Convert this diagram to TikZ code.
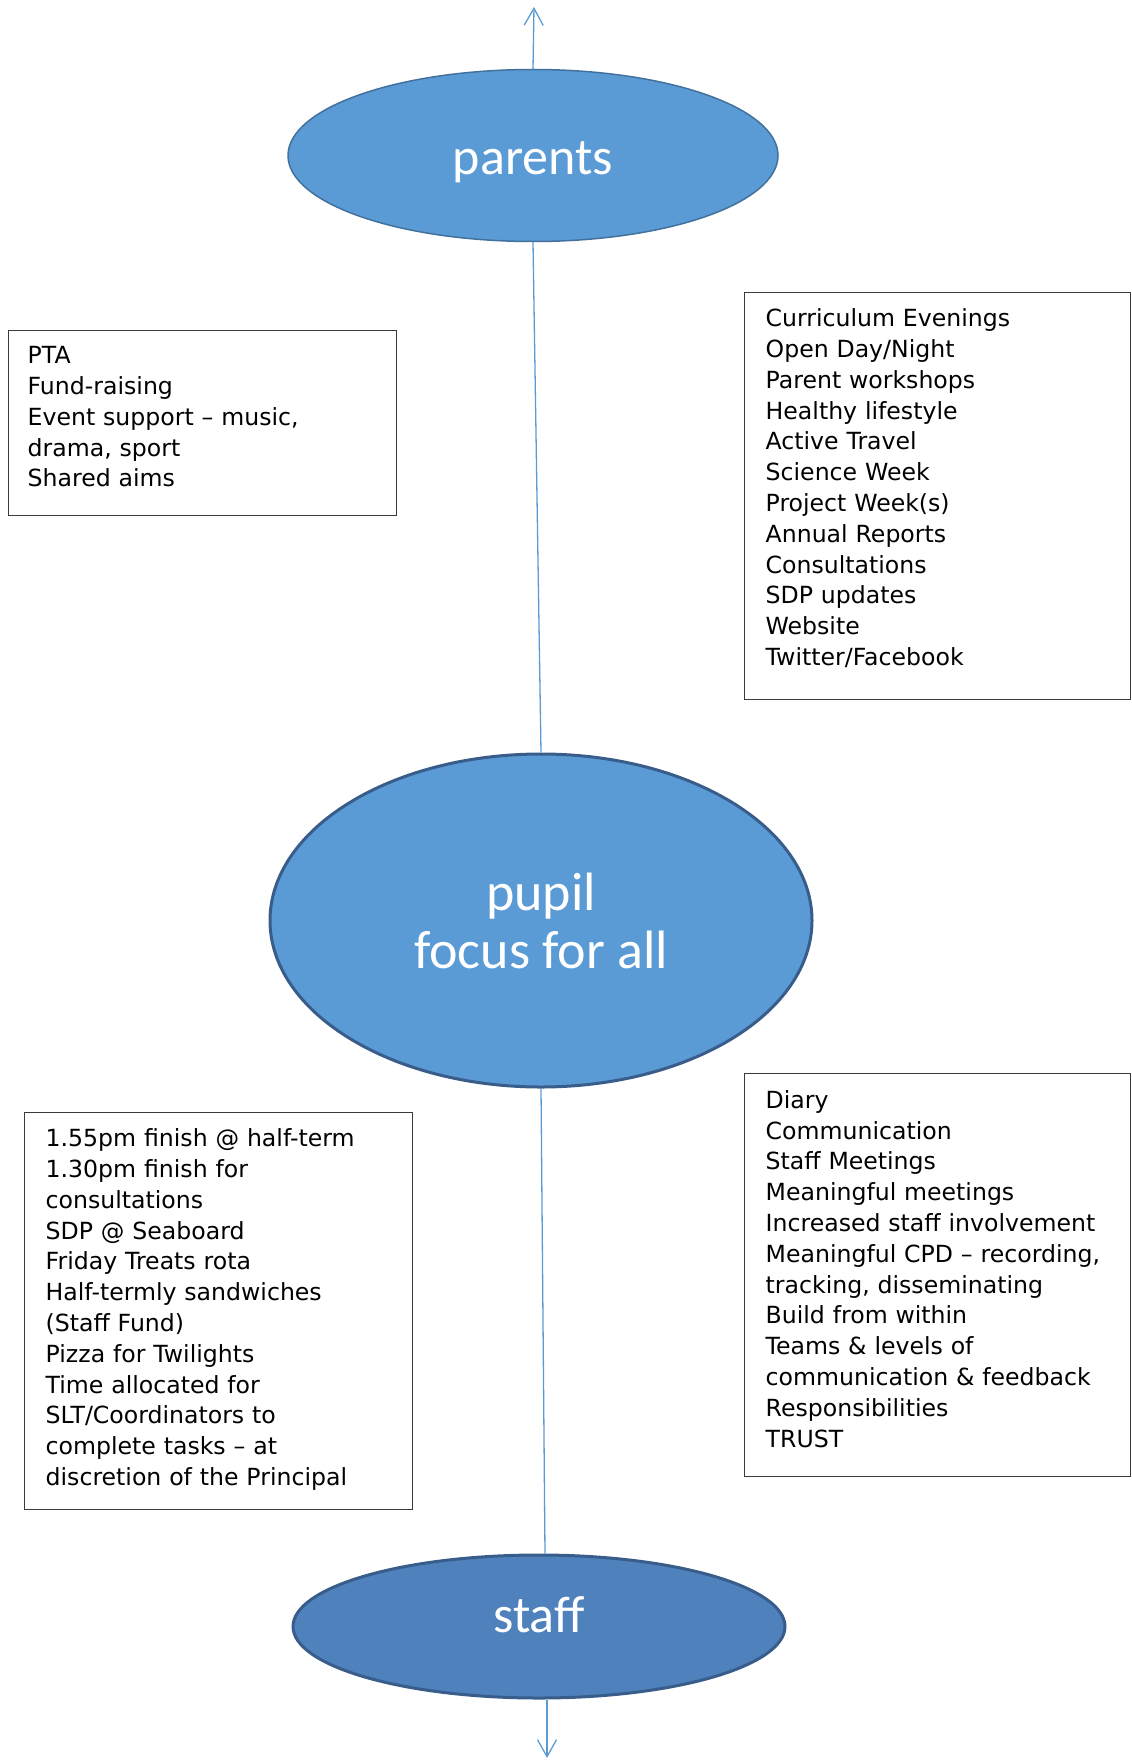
\documentclass[tikz,border=0pt]{standalone}
\usepackage{fontspec}
\setmainfont{DejaVu Sans}
\newfontfamily\ovalfont{Carlito}
\usepackage{xcolor}
\usepackage{tikz}
\usetikzlibrary{positioning, arrows.meta, shapes.geometric}
\definecolor{ovalblue}{HTML}{5B9BD5}
\definecolor{ovalborder}{HTML}{41719C}
\definecolor{staffblue}{HTML}{4F81BD}
\definecolor{staffborder}{HTML}{385D8A}
\definecolor{linkblue}{HTML}{5B9BD5}
\definecolor{boxborder}{HTML}{3A3A3A}

\tikzset{
  oval/.style={ellipse, fill=ovalblue, draw=ovalborder, line width=0.75pt,
    text=white, align=center, inner sep=0pt,
    font=\ovalfont\fontsize{26}{29}\selectfont},
  listbox/.style={draw=boxborder, line width=0.7pt, anchor=north west,
    align=left, inner xsep=10.5pt, inner ysep=0pt,
    font=\fontsize{11.8}{15.4}\selectfont},
  link/.style={draw=linkblue, line width=0.65pt},
  barb/.style={-{Straight Barb[length=8.5pt, width=9.5pt]}}
}

\begin{document}
\begin{tikzpicture}[x=0.5pt, y=-0.5pt]
    \useasboundingbox (0,0) rectangle (1131,1760);

    % the three ovals
    \node[oval, minimum width=245pt, minimum height=86pt,
          text height=19.5pt, text depth=0pt] (parents) at (533,155.5) {parents};
    \node[oval, draw=staffborder, line width=1.5pt, minimum width=271pt,
          minimum height=166.5pt, font=\ovalfont\fontsize{27}{29}\selectfont,
          text height=47.5pt, text depth=0pt] (pupil) at (541,920.5) {pupil\\focus for all};
    \node[oval, fill=staffblue, draw=staffborder, line width=1.5pt,
          minimum width=246pt, minimum height=71.5pt,
          text height=10pt, text depth=4.5pt] (staff) at (539,1626.5) {staff};

    % lists
    \node[listbox, inner xsep=9.5pt, text width=175pt,
          text height=16.5pt, text depth=76pt] (ptabox) at (8,330) {%
      PTA\\
      Fund-raising\\
      Event support – music,\\
      drama, sport\\
      Shared aims};
    \node[listbox, text width=172pt,
          text height=17pt, text depth=186.5pt] (parentbox) at (744,292) {%
      Curriculum Evenings\\
      Open Day/Night\\
      Parent workshops\\
      Healthy lifestyle\\
      Active Travel\\
      Science Week\\
      Project Week(s)\\
      Annual Reports\\
      Consultations\\
      SDP updates\\
      Website\\
      Twitter/Facebook};
    \node[listbox, text width=173pt,
          text height=17pt, text depth=181.5pt] (perkbox) at (24,1112) {%
      1.55pm finish @ half-term\\
      1.30pm finish for\\
      consultations\\
      SDP @ Seaboard\\
      Friday Treats rota\\
      Half-termly sandwiches\\
      (Staff Fund)\\
      Pizza for Twilights\\
      Time allocated for\\
      SLT/Coordinators to\\
      complete tasks – at\\
      discretion of the Principal};
    \node[listbox, text width=172pt,
          text height=17.25pt, text depth=184.25pt] (staffbox) at (744,1073) {%
      Diary\\
      Communication\\
      Staff Meetings\\
      Meaningful meetings\\
      Increased staff involvement\\
      Meaningful CPD – recording,\\
      tracking, disseminating\\
      Build from within\\
      Teams \& levels of\\
      communication \& feedback\\
      Responsibilities\\
      TRUST};

    % axis through the ovals
    \coordinate (topend) at (534,7);
    \coordinate (bottomend) at (547,1758);
    \draw[link, barb] (parents.north) -- (topend);
    \draw[link] (parents.south) -- (pupil.north);
    \draw[link] (pupil.south) -- ([xshift=3pt]staff.north);
    \draw[link, barb] ([xshift=4pt]staff.south) -- (bottomend);
\end{tikzpicture}
\end{document}
